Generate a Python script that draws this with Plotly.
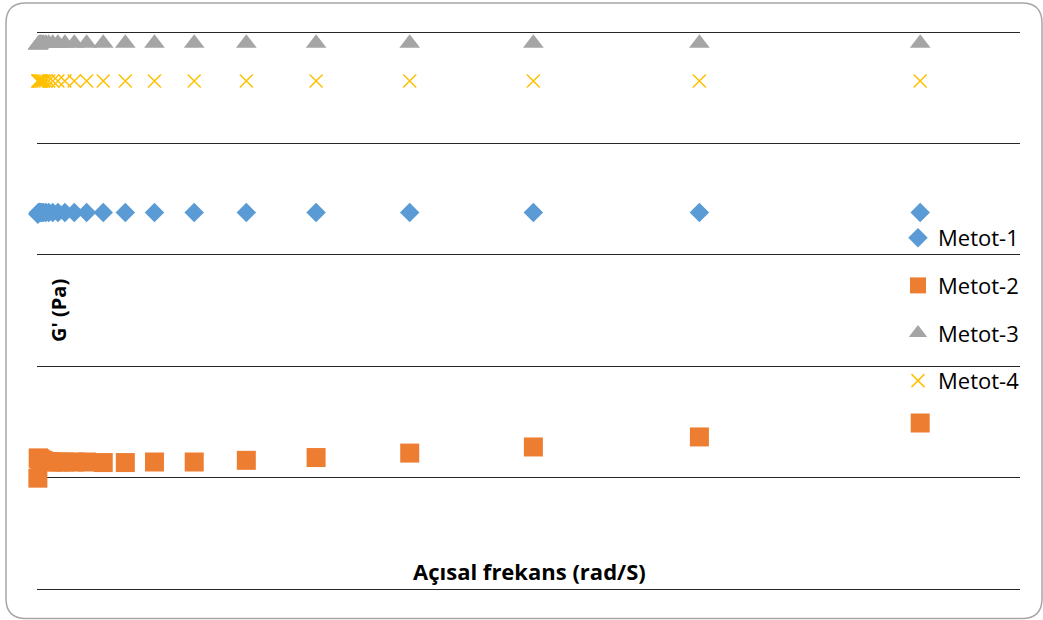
import plotly.graph_objects as go

# Angular frequency (rad/s)
freq = [0.1, 0.133, 0.178, 0.237, 0.316, 0.422, 0.562, 0.75, 1, 1.33, 1.78, 2.37,
        3.16, 4.22, 5.62, 7.5, 10, 13.3, 17.8, 23.7, 31.6, 42.2, 56.2, 75, 100]

# G' values (relative units)
metot1 = [673, 675, 676, 676, 676, 676, 676, 676, 676, 676, 676, 676,
          676, 676, 676, 676, 676, 676, 676, 676, 676, 676, 676, 676, 676]
metot2 = [199, 235, 235, 234, 233, 232, 231, 230, 229, 229, 228, 228,
          228, 228, 228, 227, 227, 228, 228, 231, 236, 244, 255, 273, 298]
metot3 = [976, 977, 978, 979, 980, 980, 980, 980, 980, 980, 980, 980,
          980, 980, 980, 980, 980, 980, 980, 980, 980, 980, 980, 980, 980]
metot4 = [912, 912, 912, 912, 912, 912, 912, 912, 912, 912, 912, 912,
          912, 912, 912, 912, 912, 912, 912, 912, 912, 912, 912, 912, 912]

names = ["Metot-1", "Metot-2", "Metot-3", "Metot-4"]
colors = ["#5B9BD5", "#ED7D31", "#A5A5A5", "#FFC000"]

W, H = 1043, 620
L, R, T, B = 37, 23, 30, 29
PW, PH = W - L - R, H - T - B
YPAD = 2 / 0.557  # 2px of padding in data units

def px(x):
    return (x - L) / PW

def py(y):
    return (H - B - y) / PH

fig = go.Figure()
fig.add_trace(go.Scatter(x=freq, y=metot1, mode="markers", name=names[0], legendgroup="a",
                         cliponaxis=False,
                         marker=dict(symbol="diamond", size=15, color=colors[0])))
fig.add_trace(go.Scatter(x=freq, y=metot2, mode="markers", name=names[1], legendgroup="b",
                         cliponaxis=False,
                         marker=dict(symbol="square", size=19, color=colors[1])))
fig.add_trace(go.Scatter(x=freq, y=metot3, mode="markers", name=names[2], legendgroup="c",
                         cliponaxis=False,
                         marker=dict(symbol="triangle-up", size=18, color=colors[2])))
fig.add_trace(go.Scatter(x=freq, y=metot4, mode="markers", name=names[3], legendgroup="d",
                         cliponaxis=False,
                         marker=dict(symbol="x-thin-open", size=13, color=colors[3],
                                     line=dict(color=colors[3], width=1.5))))

# rounded outer border
x0, x1, y0, y1, r = 6, 1042, 3, 618.5, 20
path = (f"M {px(x0 + r)},{py(y0)} L {px(x1 - r)},{py(y0)} "
        f"Q {px(x1)},{py(y0)} {px(x1)},{py(y0 + r)} L {px(x1)},{py(y1 - r)} "
        f"Q {px(x1)},{py(y1)} {px(x1 - r)},{py(y1)} L {px(x0 + r)},{py(y1)} "
        f"Q {px(x0)},{py(y1)} {px(x0)},{py(y1 - r)} L {px(x0)},{py(y0 + r)} "
        f"Q {px(x0)},{py(y0)} {px(x0 + r)},{py(y0)} Z")

fig.update_layout(
    width=W, height=H,
    margin=dict(l=L, r=R, t=T, b=B, pad=0),
    paper_bgcolor="white", plot_bgcolor="white",
    font=dict(family="Open Sans, sans-serif", color="#000000"),
    showlegend=True,
    legend=dict(x=px(898), y=py(217), xanchor="left", yanchor="top",
                bgcolor="rgba(0,0,0,0)", font=dict(size=22, color="#000000"),
                tracegroupgap=16, itemsizing="trace"),
    xaxis=dict(range=[0, 111.3], showgrid=False, zeroline=False, showline=False,
               showticklabels=False, ticks=""),
    yaxis=dict(range=[-YPAD, 1000 + YPAD], dtick=200, tick0=0, showgrid=True,
               gridcolor="#262626", gridwidth=1, zeroline=False, showline=False,
               showticklabels=False, ticks=""),
    shapes=[dict(type="path", xref="paper", yref="paper", path=path,
                 line=dict(color="#A6A6A6", width=1.5), fillcolor="rgba(0,0,0,0)", layer="below")],
    annotations=[
        dict(text="<b>Açısal frekans (rad/S)</b>", xref="paper", yref="paper",
             x=px(529.5), y=py(571), xanchor="center", yanchor="middle", showarrow=False,
             font=dict(size=22, color="#000000")),
        dict(text="<b>G' (Pa)</b>", xref="paper", yref="paper", textangle=-90,
             x=px(58), y=py(311), xanchor="center", yanchor="middle", showarrow=False,
             font=dict(size=20, color="#000000")),
    ],
)

fig.write_html("out.html", config={"displayModeBar": False},
               post_script="document.body.style.margin='0';document.body.style.overflow='hidden';")
